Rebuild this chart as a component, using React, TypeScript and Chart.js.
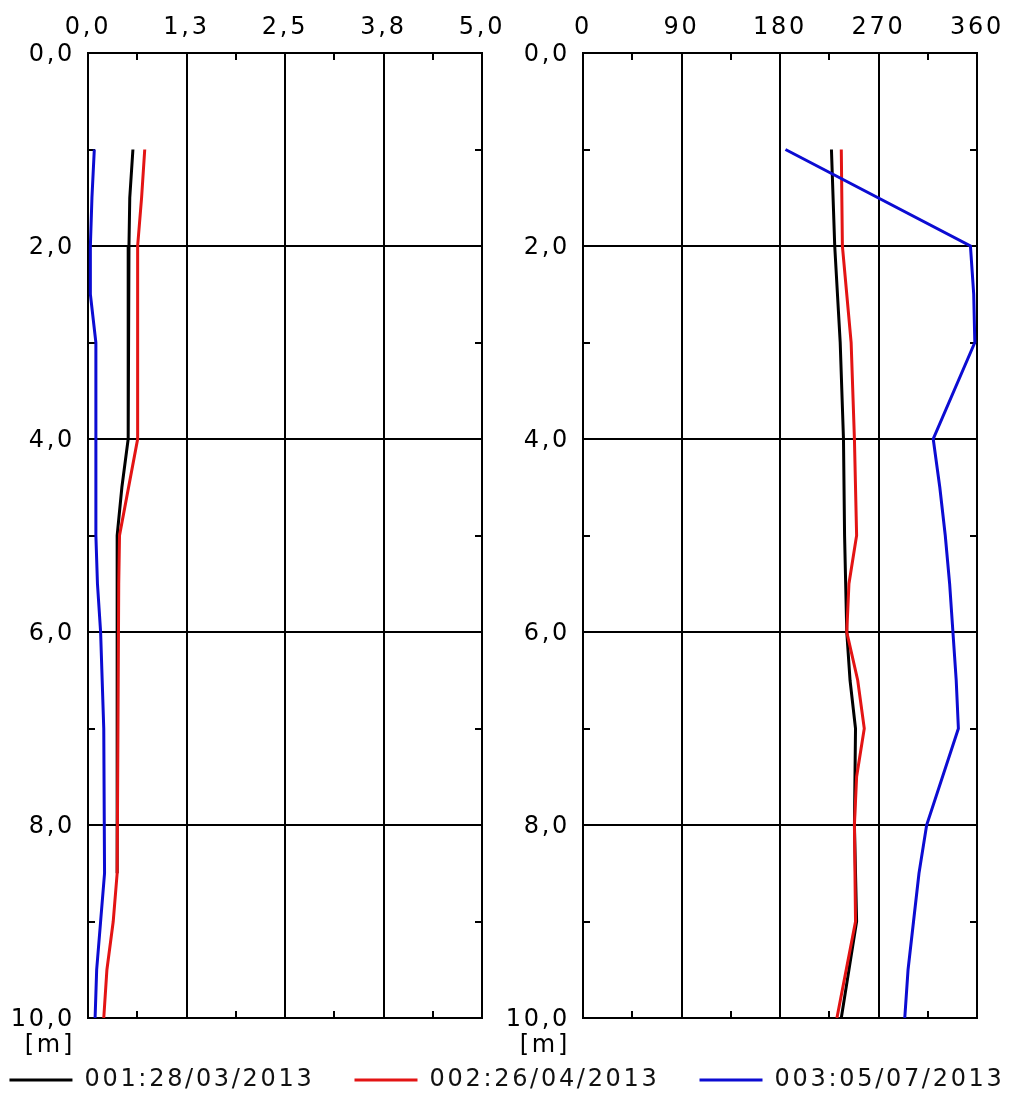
import React, { useEffect, useRef } from 'react';
import { Chart, registerables } from 'chart.js';

Chart.register(...registerables);

// ---------- data ----------
const SERIES_NAMES = ['001:28/03/2013', '002:26/04/2013', '003:05/07/2013'];
const SERIES_COLORS = ['#000000', '#e31414', '#0c0cd2'];

// left panel (0 – 5)
const L_BLACK_DEPTH = [1.0, 1.5, 2.0, 4.0, 4.5, 5.0, 8.5];
const L_BLACK_VALUE = [0.57, 0.53, 0.52, 0.51, 0.43, 0.37, 0.37];
const L_RED_DEPTH = [1.0, 1.5, 2.0, 4.0, 5.0, 5.5, 8.5, 9.0, 9.5, 10.0];
const L_RED_VALUE = [0.72, 0.68, 0.63, 0.63, 0.40, 0.39, 0.37, 0.32, 0.24, 0.20];
const L_BLUE_DEPTH = [1.0, 1.5, 2.0, 2.5, 3.0, 5.0, 5.5, 6.0, 7.0, 8.5, 9.0, 9.5, 10.0];
const L_BLUE_VALUE = [0.08, 0.05, 0.03, 0.03, 0.10, 0.10, 0.12, 0.16, 0.20, 0.21, 0.16, 0.11, 0.09];

// right panel (0 – 360)
const R_BLACK_DEPTH = [1.0, 2.0, 3.0, 4.0, 5.0, 6.0, 6.5, 7.0, 8.0, 9.0, 10.0];
const R_BLACK_VALUE = [227, 230, 235, 238, 239, 241, 244, 249, 248, 250, 236];
const R_RED_DEPTH = [1.0, 2.0, 3.0, 4.0, 5.0, 5.5, 6.0, 6.5, 7.0, 7.5, 8.0, 9.0, 10.0];
const R_RED_VALUE = [236, 237, 245, 248, 250, 243, 241, 251, 257, 250, 248, 249, 232];
const R_BLUE_DEPTH = [1.0, 2.0, 2.5, 3.0, 4.0, 4.5, 5.0, 5.5, 6.0, 6.5, 7.0, 8.0, 8.5, 9.0, 9.5, 10.0];
const R_BLUE_VALUE = [185, 354, 357, 358, 320, 326, 331, 335, 338, 341, 343, 314, 307, 302, 297, 294];

// axes
const LEFT_X_MIN = 0;
const LEFT_X_MAX = 5;
const LEFT_X_STEP = 0.625;
const LEFT_X_LABELS = ['0,0', '1,3', '2,5', '3,8', '5,0'];
const RIGHT_X_MIN = 0;
const RIGHT_X_MAX = 360;
const RIGHT_X_STEP = 45;
const RIGHT_X_LABELS = ['0', '90', '180', '270', '360'];
const Y_MIN = 0;
const Y_MAX = 10;
const Y_STEP = 1;
const Y_TICK_VALUES = [0, 2, 4, 6, 8, 10];
const Y_TICK_LABELS = ['0,0', '2,0', '4,0', '6,0', '8,0', '10,0'];
const UNIT_LABEL = '[m]';

// ---------- styling ----------
const W = 1014;
const H = 1094;
const RIGHT_CANVAS_W = 1100; // wider canvas so the legend fits on one row
const RIGHT_CANVAS_SHIFT = 43;
const FONT_FAMILY = "'DejaVu Sans', Verdana, sans-serif";
const FONT_SIZE = 24;
const FONT_WEIGHT = 'normal';
const LETTER_SPACING = '2.7px';
const NONE = 'rgba(0,0,0,0)';
const TICK_LEN = -7;
const PLOT_TOP = 53;
const PLOT_BOTTOM = 1018;

const spacingPlugin = {
  id: 'spacing',
  beforeUpdate(chart: any) { chart.ctx.letterSpacing = LETTER_SPACING; },
  beforeLayout(chart: any) { chart.ctx.letterSpacing = LETTER_SPACING; },
  beforeDraw(chart: any) { chart.ctx.letterSpacing = LETTER_SPACING; },
};

const unitPlugin = {
  id: 'unitLabel',
  afterDraw(chart: any) {
    const ys = chart.scales.y;
    const ctx = chart.ctx;
    const pad = ys.options.ticks.padding;
    ctx.save();
    ctx.letterSpacing = LETTER_SPACING;
    ctx.font = `${FONT_WEIGHT} ${FONT_SIZE}px ${FONT_FAMILY}`;
    ctx.fillStyle = '#000';
    ctx.textAlign = 'right';
    ctx.textBaseline = 'middle';
    ctx.fillText(UNIT_LABEL, ys.right - (TICK_LEN + pad), ys.getPixelForValue(Y_MAX) + 28);
    ctx.restore();
  },
};

const toPoints = (depth: number[], value: number[]) => depth.map((d, i) => ({ x: value[i], y: d }));

function makeDatasets(series: [number[], number[]][]) {
  return series.map(([d, v], i) => ({
    label: SERIES_NAMES[i],
    data: toPoints(d, v),
    borderColor: SERIES_COLORS[i],
    backgroundColor: SERIES_COLORS[i],
    borderWidth: 3,
    pointRadius: 0,
    tension: 0,
    order: 2 - i,
    xAxisID: 'x',
    yAxisID: 'y',
  }));
}

interface PanelOpts {
  datasets: any[];
  xMin: number;
  xMax: number;
  xStep: number;
  xLabels: string[];
  yWidth: number;
  yRWidth: number;
  padBottom: number;
  legend: boolean;
}

function makeConfig(p: PanelOpts): any {
  const font = { family: FONT_FAMILY, size: FONT_SIZE, weight: FONT_WEIGHT };
  const gridBase = {
    lineWidth: 2,
    tickLength: TICK_LEN,
    tickColor: '#000',
    tickWidth: 2,
  };
  const border = { display: true, color: '#000', width: 2 };
  return {
    type: 'line',
    data: { datasets: p.datasets },
    plugins: [spacingPlugin, unitPlugin],
    options: {
      animation: false,
      responsive: false,
      events: [],
      indexAxis: 'y',
      layout: { padding: { left: 0, right: 0, top: 0, bottom: p.padBottom } },
      plugins: {
        tooltip: { enabled: false },
        legend: p.legend
          ? {
              display: true,
              position: 'bottom',
              labels: {
                usePointStyle: true,
                pointStyle: 'line',
                pointStyleWidth: 63,
                padding: 40,
                color: '#111',
                font,
                sort: (a: any, b: any) => a.datasetIndex - b.datasetIndex,
              },
            }
          : { display: false },
      },
      scales: {
        x: {
          type: 'linear',
          position: 'top',
          min: p.xMin,
          max: p.xMax,
          afterFit: (s: any) => { s.height = PLOT_TOP; },
          ticks: {
            stepSize: p.xStep,
            autoSkip: false,
            maxRotation: 0,
            padding: 18,
            color: '#000',
            font,
            callback: (_v: any, i: number) => (i % 2 === 0 ? p.xLabels[i / 2] : ''),
          },
          grid: { ...gridBase, color: (c: any) => (c.index % 2 === 0 ? '#000' : NONE) },
          border,
        },
        xB: {
          type: 'linear',
          position: 'bottom',
          min: p.xMin,
          max: p.xMax,
          afterFit: (s: any) => {
            const lh = p.legend && s.chart.legend ? s.chart.legend.height : 0;
            s.height = Math.max(0, H - p.padBottom - PLOT_BOTTOM - lh);
          },
          ticks: { stepSize: p.xStep, display: false, autoSkip: false },
          grid: { ...gridBase, drawOnChartArea: false, color: '#000' },
          border,
        },
        y: {
          type: 'linear',
          position: 'left',
          reverse: true,
          min: Y_MIN,
          max: Y_MAX,
          afterFit: (s: any) => { s.width = p.yWidth; },
          ticks: {
            stepSize: Y_STEP,
            autoSkip: false,
            padding: 20,
            labelOffset: 2,
            color: '#000',
            font,
            callback: (v: any) => {
              const i = Y_TICK_VALUES.indexOf(Number(v));
              return i >= 0 ? Y_TICK_LABELS[i] : '';
            },
          },
          grid: {
            ...gridBase,
            color: (c: any) => (c.tick && Y_TICK_VALUES.indexOf(c.tick.value) >= 0 ? '#000' : NONE),
          },
          border,
        },
        yR: {
          type: 'linear',
          position: 'right',
          reverse: true,
          min: Y_MIN,
          max: Y_MAX,
          afterFit: (s: any) => { s.width = p.yRWidth; },
          ticks: { stepSize: Y_STEP, display: false, autoSkip: false },
          grid: { ...gridBase, drawOnChartArea: false, color: '#000' },
          border,
        },
      },
    },
  };
}

export default function App() {
  const leftRef = useRef<HTMLCanvasElement>(null);
  const rightRef = useRef<HTMLCanvasElement>(null);

  useEffect(() => {
    const right = new Chart(
      rightRef.current as HTMLCanvasElement,
      makeConfig({
        datasets: makeDatasets([
          [R_BLACK_DEPTH, R_BLACK_VALUE],
          [R_RED_DEPTH, R_RED_VALUE],
          [R_BLUE_DEPTH, R_BLUE_VALUE],
        ]),
        xMin: RIGHT_X_MIN,
        xMax: RIGHT_X_MAX,
        xStep: RIGHT_X_STEP,
        xLabels: RIGHT_X_LABELS,
        yWidth: 583 + RIGHT_CANVAS_SHIFT,
        yRWidth: RIGHT_CANVAS_W - RIGHT_CANVAS_SHIFT - 977,
        padBottom: -8,
        legend: true,
      })
    );
    const left = new Chart(
      leftRef.current as HTMLCanvasElement,
      makeConfig({
        datasets: makeDatasets([
          [L_BLACK_DEPTH, L_BLACK_VALUE],
          [L_RED_DEPTH, L_RED_VALUE],
          [L_BLUE_DEPTH, L_BLUE_VALUE],
        ]),
        xMin: LEFT_X_MIN,
        xMax: LEFT_X_MAX,
        xStep: LEFT_X_STEP,
        xLabels: LEFT_X_LABELS,
        yWidth: 88,
        yRWidth: W - 482,
        padBottom: 0,
        legend: false,
      })
    );
    return () => {
      left.destroy();
      right.destroy();
    };
  }, []);

  return (
    <div
      style={{
        position: 'fixed',
        left: 0,
        top: 0,
        width: W,
        height: H,
        overflow: 'hidden',
        background: '#fff',
      }}
    >
      <canvas
        ref={rightRef}
        width={RIGHT_CANVAS_W}
        height={H}
        style={{ position: 'absolute', left: -RIGHT_CANVAS_SHIFT, top: 0, width: RIGHT_CANVAS_W, height: H }}
      />
      <canvas
        ref={leftRef}
        width={W}
        height={H}
        style={{ position: 'absolute', left: 0, top: 0, width: W, height: H }}
      />
    </div>
  );
}
